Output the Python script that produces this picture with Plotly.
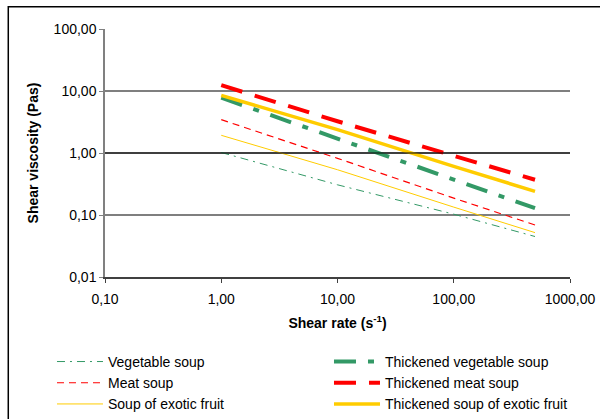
import plotly.graph_objects as go

# Shear rate (1/s) and viscosity (Pa·s) readings for each soup
shear_rate = [1, 10, 100, 500]

vegetable = [1.02, 0.307, 0.103, 0.045]
thick_vegetable = [7.8, 1.72, 0.366, 0.129]
meat = [3.45, 0.82, 0.187, 0.069]
thick_meat = [12.4, 3.25, 0.90, 0.37]
fruit = [1.93, 0.537, 0.134, 0.052]
thick_fruit = [8.5, 2.38, 0.61, 0.24]

x_ticks = [0.1, 1, 10, 100, 1000]
y_ticks = [0.01, 0.1, 1, 10, 100]

GREEN = "#339966"
RED = "#FF0000"
YELLOW = "#FFCC00"
FONT = "Liberation Sans, Arial, sans-serif"

series = [
    ("Vegetable soup", vegetable, GREEN, 1, "8px,5px,2px,5px"),
    ("Thickened vegetable soup", thick_vegetable, GREEN, 4, "22px,12px,6px,12px"),
    ("Meat soup", meat, RED, 1.2, "7px,5px"),
    ("Thickened meat soup", thick_meat, RED, 4, "22px,13px"),
    ("Soup of exotic fruit", fruit, YELLOW, 1, "solid"),
    ("Thickened soup of exotic fruit", thick_fruit, YELLOW, 3.5, "solid"),
]

fig = go.Figure()
for name, vals, color, width, dash in series:
    fig.add_trace(go.Scatter(
        x=shear_rate, y=vals, mode="lines", name=name,
        line=dict(color=color, width=width, dash=dash),
    ))

tick_font = dict(family=FONT, size=14, color="black")

fig.update_xaxes(
    type="log", range=[-1, 3], tickvals=x_ticks, tickformat=".2f",
    ticks="outside", ticklen=4, tickcolor="#404040", showgrid=False,
    showline=True, linecolor="#404040", linewidth=1.5,
    tickfont=tick_font, zeroline=False, ticklabelstandoff=4,
    title=dict(text="<b>Shear rate (s<sup>-1</sup>)</b>", standoff=13,
               font=dict(family=FONT, size=14)),
)
fig.update_yaxes(
    type="log", range=[-2, 2], tickvals=y_ticks, tickformat=".2f",
    ticks="outside", ticklen=4, tickcolor="#808080",
    showgrid=True, gridcolor="#7f7f7f", gridwidth=1.5,
    showline=True, linecolor="#808080", linewidth=1.5,
    tickfont=tick_font, zeroline=False,
    title=dict(text="<b>Shear viscosity (Pas)</b>", standoff=12,
               font=dict(family=FONT, size=14)),
)

# darker reference line at 1 Pa·s
fig.add_shape(type="line", xref="paper", yref="y", x0=0, x1=1, y0=1, y1=1,
              line=dict(color="black", width=1.2))

# chart frame
fig.add_shape(type="rect", xref="paper", yref="paper",
              x0=-0.208, x1=1.2, y0=-0.6, y1=1.09,
              line=dict(color="black", width=1.5), layer="below")

fig.update_layout(
    width=600, height=419,
    margin=dict(l=105, r=30, t=29, b=142, autoexpand=False),
    paper_bgcolor="white", plot_bgcolor="white",
    separators=", ",
    font=dict(family=FONT, size=14, color="black"),
    legend=dict(
        orientation="h", x=-0.114, xanchor="left", y=-0.278, yanchor="top",
        entrywidth=216, entrywidthmode="pixels", itemwidth=46,
        font=dict(family=FONT, size=14), bgcolor="rgba(0,0,0,0)",
    ),
)

fig.write_html("out.html")
